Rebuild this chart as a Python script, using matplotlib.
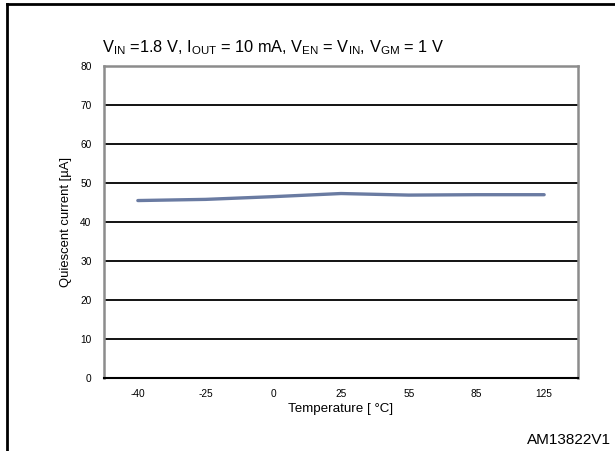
import matplotlib
matplotlib.use("Agg")
import matplotlib.pyplot as plt
from matplotlib.lines import Line2D

plt.rcParams['font.family'] = ['Liberation Sans', 'DejaVu Sans']
plt.rcParams['mathtext.fontset'] = 'custom'
plt.rcParams['mathtext.rm'] = 'Liberation Sans'
plt.rcParams['mathtext.it'] = 'Liberation Sans'

temps = ['-40', '-25', '0', '25', '55', '85', '125']
iq = [45.5, 45.8, 46.5, 47.3, 46.9, 47.0, 47.0]
yticks = [0, 10, 20, 30, 40, 50, 60, 70, 80]

fig = plt.figure(figsize=(6.15, 4.51), dpi=100)
ax = fig.add_axes([104/615, 1-378/451, (578-104)/615, (378-66)/451])

x = list(range(len(temps)))
ax.plot(x, iq, color='#6A7BA2', lw=2.4, solid_capstyle='round')

ax.set_xlim(-0.5, len(temps)-0.5)
ax.set_ylim(0, 80)
ax.set_yticks(yticks)
ax.set_yticklabels([str(v) for v in yticks], fontsize=7.3)
ax.set_xticks(x)
ax.set_xticklabels(temps, fontsize=7.3)
ax.tick_params(axis='both', length=0)
ax.tick_params(axis='y', pad=9)
ax.tick_params(axis='x', pad=8)
for v in yticks[1:-1]:
    ax.axhline(v, color='black', lw=1.3, zorder=1)

for s in ['left', 'right', 'top']:
    ax.spines[s].set_color('#8c8c8c')
    ax.spines[s].set_linewidth(1.8)
ax.spines['bottom'].set_color('black')
ax.spines['bottom'].set_linewidth(1.5)

ax.set_xlabel('Temperature [ °C]', fontsize=9.6, labelpad=3)
ax.set_ylabel('Quiescent current [µA]', fontsize=9.4, labelpad=6)

fig.text(102/615, 1-48/451,
         r'V$_{\mathrm{IN}}$ =1.8 V, I$_{\mathrm{OUT}}$ = 10 mA, V$_{\mathrm{EN}}$ = V$_{\mathrm{IN}}$, V$_{\mathrm{GM}}$ = 1 V',
         fontsize=11.8, ha='left', va='center')
fig.text(611/615, 1-440/451, 'AM13822V1', fontsize=11, ha='right', va='center')

# outer frame: left and top borders
fig.add_artist(Line2D([7/615, 7/615], [0, 1-4/451], transform=fig.transFigure, color='black', lw=2))
fig.add_artist(Line2D([7/615, 1], [1-4/451, 1-4/451], transform=fig.transFigure, color='black', lw=2))

fig.savefig('out.png', dpi=100)
